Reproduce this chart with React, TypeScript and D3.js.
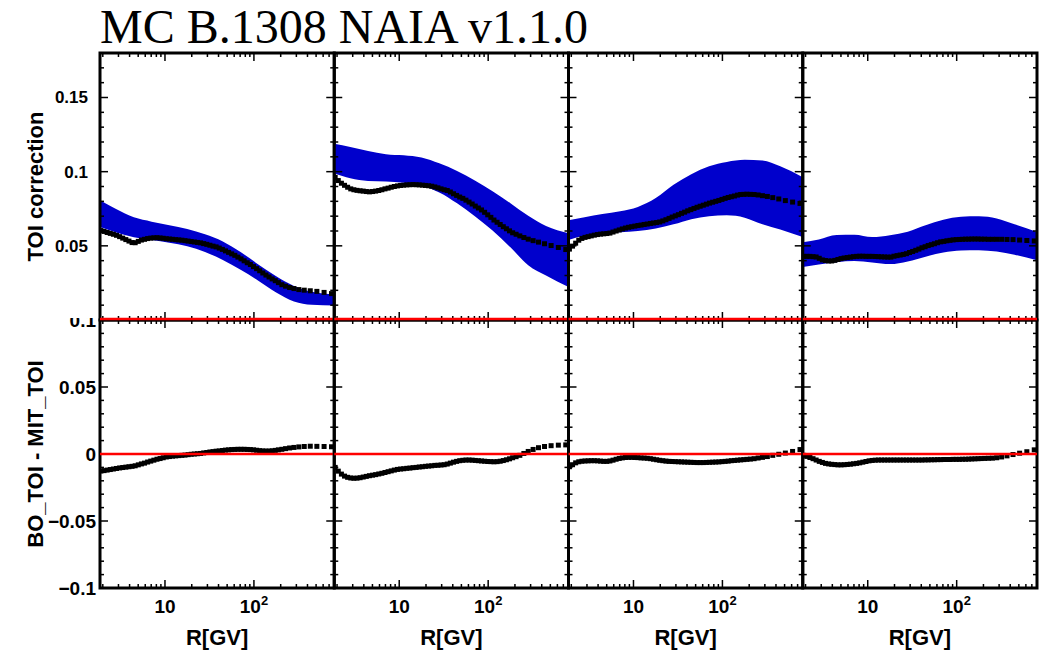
import React from "react";
import * as d3 from "d3";

// Rigidity bin centres (GV) shared by every panel
const rigidity = [
  1.905, 2.065, 2.239, 2.427, 2.63, 2.851, 3.09, 3.35, 3.631, 3.936,
  4.266, 4.624, 5.012, 5.433, 5.888, 6.383, 6.918, 7.499, 8.128, 8.81,
  9.55, 10.35, 11.22, 12.16, 13.18, 14.29, 15.49, 16.79, 18.2, 19.72,
  21.38, 23.17, 25.12, 27.23, 29.51, 31.99, 34.67, 37.58, 40.74, 44.16,
  47.86, 51.88, 56.23, 60.95, 66.07, 71.61, 77.62, 84.14, 91.2, 98.86,
  107.2, 116.1, 125.9, 136.5, 147.9, 160.3, 173.8, 188.4,
  206, 227, 252, 282, 320, 368, 430, 510, 615, 745,
];

// TOI correction per panel
const corr1 = [
  0.0603, 0.0597, 0.059, 0.0584, 0.0578, 0.0571, 0.0562, 0.0552, 0.0542, 0.0532,
  0.0522, 0.0521, 0.053, 0.0539, 0.0544, 0.0549, 0.0552, 0.0554, 0.0555, 0.0553,
  0.0551, 0.0548, 0.0546, 0.0544, 0.0542, 0.054, 0.0538, 0.0535, 0.0532, 0.0529,
  0.0526, 0.0523, 0.052, 0.0515, 0.051, 0.0504, 0.0498, 0.0493, 0.0485, 0.0476,
  0.0466, 0.0456, 0.0446, 0.0436, 0.0424, 0.0412, 0.0399, 0.0386, 0.0374, 0.036,
  0.0346, 0.0332, 0.0317, 0.0303, 0.029, 0.0277, 0.0265, 0.0252,
  0.0238, 0.0228, 0.0219, 0.0212, 0.0205, 0.0201, 0.0197, 0.0193, 0.0186, 0.0178,
];
const corr2 = [
  0.0962, 0.094, 0.0922, 0.0908, 0.0895, 0.0884, 0.0878, 0.0874, 0.0871, 0.0869,
  0.0866, 0.0864, 0.0866, 0.0869, 0.0873, 0.0878, 0.0884, 0.0889, 0.0895, 0.09,
  0.0904, 0.0907, 0.0909, 0.0911, 0.0912, 0.0913, 0.0912, 0.0911, 0.0909, 0.0907,
  0.0905, 0.0902, 0.0897, 0.0891, 0.0884, 0.0878, 0.0873, 0.0863, 0.0851, 0.084,
  0.0829, 0.082, 0.0808, 0.0795, 0.0782, 0.0768, 0.0755, 0.0742, 0.0726, 0.0709,
  0.0692, 0.0674, 0.0659, 0.0644, 0.0629, 0.0615, 0.0601, 0.0588,
  0.0578, 0.0567, 0.0556, 0.0545, 0.0535, 0.0525, 0.0514, 0.0502, 0.0489, 0.0475,
];
const corr3 = [
  0.0478, 0.0498, 0.0518, 0.0538, 0.055, 0.0557, 0.0562, 0.0567, 0.0572, 0.0576,
  0.0579, 0.0581, 0.0583, 0.0586, 0.0593, 0.06, 0.0607, 0.0614, 0.062, 0.0625,
  0.0629, 0.0633, 0.0637, 0.064, 0.0644, 0.0647, 0.0651, 0.0654, 0.0657, 0.0661,
  0.0668, 0.0676, 0.0685, 0.0694, 0.0702, 0.071, 0.0719, 0.0727, 0.0736, 0.0744,
  0.0752, 0.076, 0.0767, 0.0774, 0.0781, 0.0788, 0.0794, 0.08, 0.0806, 0.0813,
  0.082, 0.0826, 0.0831, 0.0836, 0.0842, 0.0846, 0.0847, 0.0848,
  0.0847, 0.0846, 0.0843, 0.0838, 0.0833, 0.0825, 0.0816, 0.0805, 0.0795, 0.0786,
];
const corr4 = [
  0.0429, 0.0429, 0.0429, 0.0427, 0.0425, 0.0416, 0.0405, 0.0401, 0.0398, 0.0398,
  0.0402, 0.0408, 0.0414, 0.0418, 0.0421, 0.0424, 0.0427, 0.0429, 0.043, 0.043,
  0.0429, 0.0429, 0.0429, 0.0428, 0.0427, 0.0426, 0.0425, 0.0424, 0.0424, 0.043,
  0.0434, 0.0438, 0.0442, 0.0447, 0.0455, 0.0462, 0.047, 0.0478, 0.0487, 0.0494,
  0.0502, 0.0508, 0.0514, 0.0521, 0.0527, 0.053, 0.0534, 0.0537, 0.054, 0.0542,
  0.0543, 0.0544, 0.0545, 0.0545, 0.0546, 0.0546, 0.0546, 0.0545,
  0.0545, 0.0544, 0.0544, 0.0544, 0.0544, 0.0543, 0.0542, 0.0539, 0.0536, 0.0533,
];

// BO_TOI - MIT_TOI per panel
const diff1 = [
  -0.0127, -0.0124, -0.012, -0.0116, -0.0112, -0.0108, -0.0104, -0.0101, -0.0098, -0.0095,
  -0.0092, -0.0088, -0.0081, -0.0074, -0.0068, -0.006, -0.0053, -0.0046, -0.0039, -0.0034,
  -0.0028, -0.0022, -0.0019, -0.0016, -0.0014, -0.0012, -0.001, -0.0008, -0.0005, -0.0002,
  0.0, 0.0002, 0.0004, 0.0008, 0.0011, 0.0015, 0.0018, 0.0021, 0.0023, 0.0026,
  0.0029, 0.0031, 0.0033, 0.0034, 0.0035, 0.0035, 0.0035, 0.0034, 0.0033, 0.0031,
  0.0028, 0.0025, 0.0023, 0.0022, 0.0022, 0.0024, 0.0027, 0.0031,
  0.0035, 0.004, 0.0045, 0.0049, 0.0053, 0.0056, 0.0058, 0.0057, 0.0056, 0.0054,
];
const diff2 = [
  -0.01, -0.0128, -0.015, -0.0165, -0.0174, -0.0179, -0.0181, -0.018, -0.0177, -0.0172,
  -0.0167, -0.0162, -0.0158, -0.0154, -0.0149, -0.0144, -0.0138, -0.0132, -0.0126, -0.012,
  -0.0115, -0.0112, -0.011, -0.0107, -0.0105, -0.0102, -0.01, -0.0097, -0.0095, -0.0092,
  -0.009, -0.0088, -0.0085, -0.0084, -0.0082, -0.008, -0.0075, -0.0068, -0.0061, -0.0055,
  -0.005, -0.0047, -0.0045, -0.0045, -0.0046, -0.0048, -0.005, -0.0052, -0.0054, -0.0056,
  -0.0057, -0.0058, -0.0057, -0.0054, -0.0049, -0.0043, -0.0036, -0.0028,
  -0.002, -0.001, 0.0004, 0.0019, 0.0034, 0.0047, 0.0056, 0.0062, 0.0066, 0.0068,
];
const diff3 = [
  -0.0095, -0.008, -0.0066, -0.0058, -0.0054, -0.0052, -0.0051, -0.005, -0.005, -0.0051,
  -0.0053, -0.0055, -0.0055, -0.0052, -0.0046, -0.0039, -0.0033, -0.0029, -0.0026, -0.0025,
  -0.0025, -0.0026, -0.0027, -0.0029, -0.003, -0.0032, -0.0035, -0.0039, -0.0043, -0.0047,
  -0.005, -0.0053, -0.0055, -0.0056, -0.0057, -0.0058, -0.0059, -0.006, -0.0061, -0.0062,
  -0.0063, -0.0064, -0.0064, -0.0064, -0.0063, -0.0062, -0.0061, -0.006, -0.0059, -0.0057,
  -0.0055, -0.0053, -0.005, -0.0048, -0.0046, -0.0044, -0.0042, -0.004,
  -0.0038, -0.0035, -0.003, -0.0025, -0.0019, -0.001, -0.0002, 0.0007, 0.0019, 0.0033,
];
const diff4 = [
  -0.001, -0.0018, -0.0026, -0.0035, -0.0045, -0.0055, -0.0063, -0.007, -0.0074, -0.0077,
  -0.0079, -0.0081, -0.0081, -0.008, -0.0078, -0.0076, -0.0073, -0.007, -0.0066, -0.0061,
  -0.0056, -0.0051, -0.0048, -0.0046, -0.0045, -0.0045, -0.0045, -0.0045, -0.0045, -0.0045,
  -0.0045, -0.0045, -0.0045, -0.0045, -0.0045, -0.0045, -0.0045, -0.0045, -0.0045, -0.0044,
  -0.0044, -0.0043, -0.0043, -0.0042, -0.0042, -0.0041, -0.0041, -0.0041, -0.004, -0.004,
  -0.004, -0.0039, -0.0039, -0.0038, -0.0037, -0.0036, -0.0035, -0.0034,
  -0.0033, -0.0032, -0.0031, -0.0028, -0.0022, -0.0014, -0.0004, 0.0006, 0.0017, 0.0031,
];

// Uncertainty band of the correction, sampled on a coarser rigidity grid
const bandRigidity = [1.86, 2.82, 4.47, 7.08, 11.2, 17.8, 28.2, 44.7, 70.8, 112, 178, 282, 447, 800];
const bandHigh1 = [0.0807, 0.0748, 0.0692, 0.0663, 0.0639, 0.0614, 0.0578, 0.053, 0.0458, 0.0375, 0.0295, 0.023, 0.019, 0.0172];
const bandLow1 = [0.0627, 0.059, 0.0558, 0.054, 0.0521, 0.0497, 0.0458, 0.0405, 0.0338, 0.0265, 0.0185, 0.0125, 0.0102, 0.0098];
const bandHigh2 = [0.1188, 0.1167, 0.114, 0.1118, 0.111, 0.1095, 0.1056, 0.1005, 0.094, 0.0868, 0.0787, 0.0702, 0.0633, 0.0584];
const bandLow2 = [0.099, 0.0955, 0.0937, 0.0933, 0.0925, 0.0905, 0.086, 0.0787, 0.07, 0.0604, 0.049, 0.0369, 0.03, 0.0222];
const bandHigh3 = [0.0672, 0.0693, 0.0714, 0.0733, 0.0762, 0.0822, 0.0912, 0.0983, 0.1036, 0.1066, 0.108, 0.1075, 0.1036, 0.0963];
const bandLow3 = [0.054, 0.057, 0.0587, 0.0592, 0.06, 0.0617, 0.0645, 0.068, 0.07, 0.0706, 0.069, 0.0645, 0.061, 0.0559];
const bandHigh4 = [0.0525, 0.0543, 0.0573, 0.0575, 0.0559, 0.0572, 0.0595, 0.0638, 0.0676, 0.0696, 0.0699, 0.0684, 0.0645, 0.0593];
const bandLow4 = [0.0357, 0.0375, 0.039, 0.0397, 0.0388, 0.0377, 0.0395, 0.0427, 0.0455, 0.0469, 0.0471, 0.0462, 0.044, 0.0402];

// Axis ticks and labels
const topMajorTicks = [0, 0.05, 0.1, 0.15];
const topTickLabels = ["0", "0.05", "0.1", "0.15"];
const bottomMajorTicks = [-0.1, -0.05, 0, 0.05, 0.1];
const bottomTickLabels = ["\u22120.1", "\u22120.05", "0", "0.05", "0.1"];
const xLabelTicks = [10, 100];

const TITLE = "MC B.1308 NAIA v1.1.0";
const TOP_TITLE = "TOI correction";
const BOTTOM_TITLE = "BO_TOI - MIT_TOI";
const X_TITLE = "R[GV]";

const WIDTH = 1043;
const HEIGHT = 651;
const PANEL_LEFT = 100;
const PANEL_WIDTH = 234.25;
const TOP_Y = 53;
const MID_Y = 320;
const BOTTOM_Y = 588;
const R_DOMAIN: [number, number] = [1.86, 800];
const MARKER = 5;
const SANS = "'Liberation Sans', Arial, Helvetica, sans-serif";
const SERIF = "'Liberation Serif', 'Times New Roman', serif";

const panels = [
  { corr: corr1, diff: diff1, low: bandLow1, high: bandHigh1 },
  { corr: corr2, diff: diff2, low: bandLow2, high: bandHigh2 },
  { corr: corr3, diff: diff3, low: bandLow3, high: bandHigh3 },
  { corr: corr4, diff: diff4, low: bandLow4, high: bandHigh4 },
];

export default function App() {
  const yTop = d3.scaleLinear().domain([0, 0.18]).range([MID_Y, TOP_Y]);
  const yBot = d3.scaleLinear().domain([-0.1, 0.1]).range([BOTTOM_Y, MID_Y]);
  const topMinor = yTop.ticks(18);
  const botMinor = yBot.ticks(20);
  const isMajorY = (v: number, majors: number[]) => majors.some((m) => Math.abs(m - v) < 1e-9);

  return (
    <svg
      width={WIDTH}
      height={HEIGHT}
      style={{ position: "absolute", left: 0, top: 0, background: "#fff" }}
    >
      <defs>
        {panels.map((_, p) => {
          const x0 = PANEL_LEFT + p * PANEL_WIDTH;
          return (
            <React.Fragment key={p}>
              <clipPath id={`clip-top-${p}`}>
                <rect x={x0} y={TOP_Y} width={PANEL_WIDTH} height={MID_Y - TOP_Y} />
              </clipPath>
              <clipPath id={`clip-bot-${p}`}>
                <rect x={x0} y={MID_Y} width={PANEL_WIDTH} height={BOTTOM_Y - MID_Y} />
              </clipPath>
            </React.Fragment>
          );
        })}
        <clipPath id="clip-label-bot">
          <rect x={0} y={318} width={PANEL_LEFT} height={40} />
        </clipPath>
      </defs>

      <text x={100} y={43} fontFamily={SERIF} fontSize={48} fill="#000">
        {TITLE}
      </text>

      {panels.map((pd, p) => {
        const x0 = PANEL_LEFT + p * PANEL_WIDTH;
        const x1 = x0 + PANEL_WIDTH;
        const x = d3.scaleLog().domain(R_DOMAIN).range([x0, x1]);
        const band = d3
          .area<number>()
          .x((_, i) => x(bandRigidity[i]))
          .y0((d) => yTop(d))
          .y1((_, i) => yTop(pd.high[i]))
          .curve(d3.curveMonotoneX);
        const xTicks = x.ticks().filter((t) => t >= R_DOMAIN[0] && t <= R_DOMAIN[1]);
        const isMajorX = (t: number) => Math.abs(Math.log10(t) - Math.round(Math.log10(t))) < 1e-9;

        return (
          <g key={p}>
            {/* correction band and points */}
            <g clipPath={`url(#clip-top-${p})`}>
              <path d={band(pd.low) || ""} fill="#0000cc" />
              {pd.corr.map((v, i) => (
                <rect
                  key={i}
                  x={x(rigidity[i]) - MARKER / 2}
                  y={yTop(v) - MARKER / 2}
                  width={MARKER}
                  height={MARKER}
                  fill="#000"
                />
              ))}
            </g>
            {/* difference points */}
            <g clipPath={`url(#clip-bot-${p})`}>
              {pd.diff.map((v, i) => (
                <rect
                  key={i}
                  x={x(rigidity[i]) - MARKER / 2}
                  y={yBot(v) - MARKER / 2}
                  width={MARKER}
                  height={MARKER}
                  fill="#000"
                />
              ))}
            </g>

            {/* ticks along x on every horizontal frame edge */}
            {xTicks.map((t) => {
              const len = isMajorX(t) ? 8 : 4;
              const xv = x(t);
              return (
                <g key={`xt-${t}`} stroke="#000" strokeWidth={1.5}>
                  <line x1={xv} x2={xv} y1={TOP_Y} y2={TOP_Y + len} />
                  <line x1={xv} x2={xv} y1={MID_Y} y2={MID_Y - len} />
                  <line x1={xv} x2={xv} y1={MID_Y} y2={MID_Y + len} />
                  <line x1={xv} x2={xv} y1={BOTTOM_Y} y2={BOTTOM_Y - len} />
                </g>
              );
            })}

            {/* ticks along y on both sides */}
            {topMinor.map((v) => {
              const len = isMajorY(v, topMajorTicks) ? 8 : 4;
              const yv = yTop(v);
              return (
                <g key={`yt-${v}`} stroke="#000" strokeWidth={1.5}>
                  <line x1={x0} x2={x0 + len} y1={yv} y2={yv} />
                  <line x1={x1} x2={x1 - len} y1={yv} y2={yv} />
                </g>
              );
            })}
            {botMinor.map((v) => {
              const len = isMajorY(v, bottomMajorTicks) ? 8 : 4;
              const yv = yBot(v);
              return (
                <g key={`yb-${v}`} stroke="#000" strokeWidth={1.5}>
                  <line x1={x0} x2={x0 + len} y1={yv} y2={yv} />
                  <line x1={x1} x2={x1 - len} y1={yv} y2={yv} />
                </g>
              );
            })}

            {/* frames */}
            <rect x={x0} y={TOP_Y} width={PANEL_WIDTH} height={MID_Y - TOP_Y} fill="none" stroke="#000" strokeWidth={3} />
            <rect x={x0} y={MID_Y} width={PANEL_WIDTH} height={BOTTOM_Y - MID_Y} fill="none" stroke="#000" strokeWidth={3} />

            {/* zero reference lines */}
            <line x1={x0} x2={x1} y1={yTop(0) - 1} y2={yTop(0) - 1} stroke="#ff0000" strokeWidth={2.5} />
            <line x1={x0} x2={x1} y1={yBot(0)} y2={yBot(0)} stroke="#ff0000" strokeWidth={2.5} />

            {/* x tick labels and title */}
            {xLabelTicks.map((t) => (
              <text
                key={`xl-${t}`}
                x={x(t)}
                y={613}
                textAnchor="middle"
                fontFamily={SANS}
                fontWeight="bold"
                fontSize={19}
                fill="#000"
              >
                {t === 10 ? (
                  "10"
                ) : (
                  <>
                    <tspan>10</tspan>
                    <tspan dy={-8} fontSize={13}>
                      {String(Math.round(Math.log10(t)))}
                    </tspan>
                  </>
                )}
              </text>
            ))}
            <text
              x={(x0 + x1) / 2}
              y={645}
              textAnchor="middle"
              fontFamily={SANS}
              fontWeight="bold"
              fontSize={22}
              fill="#000"
            >
              {X_TITLE}
            </text>
          </g>
        );
      })}

      {/* y tick labels, left panel only */}
      {topMajorTicks.map((v, i) =>
        v === 0 ? null : (
          <text
            key={`tl-${v}`}
            x={88}
            y={yTop(v)}
            dy="0.35em"
            textAnchor="end"
            fontFamily={SANS}
            fontWeight="bold"
            fontSize={17}
            fill="#000"
          >
            {topTickLabels[i]}
          </text>
        )
      )}
      {bottomMajorTicks.map((v, i) => (
        <text
          key={`bl-${v}`}
          x={96}
          y={yBot(v)}
          dy="0.35em"
          textAnchor="end"
          fontFamily={SANS}
          fontWeight="bold"
          fontSize={19}
          fill="#000"
          clipPath={v === 0.1 ? "url(#clip-label-bot)" : undefined}
        >
          {bottomTickLabels[i]}
        </text>
      ))}

      {/* y axis titles */}
      <text
        transform={`translate(43, ${(TOP_Y + MID_Y) / 2}) rotate(-90)`}
        textAnchor="middle"
        fontFamily={SANS}
        fontWeight="bold"
        fontSize={22}
        fill="#000"
      >
        {TOP_TITLE}
      </text>
      <text
        transform={`translate(43, ${(MID_Y + BOTTOM_Y) / 2}) rotate(-90)`}
        textAnchor="middle"
        fontFamily={SANS}
        fontWeight="bold"
        fontSize={22}
        fill="#000"
      >
        {BOTTOM_TITLE}
      </text>
    </svg>
  );
}
